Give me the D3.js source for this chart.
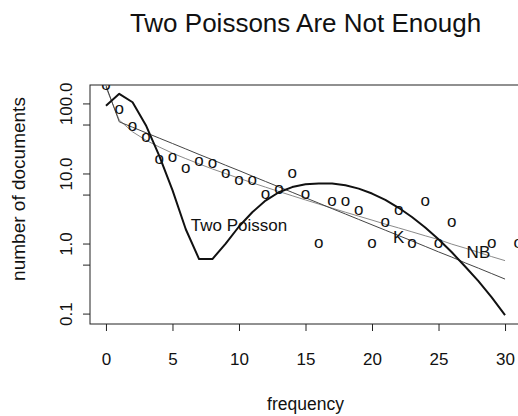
<!DOCTYPE html>
<html>
<head>
<meta charset="utf-8">
<script src="https://cdn.jsdelivr.net/npm/d3@7"></script>
<style>
	body { margin: 0; background: #fff; }
	text { font-family: "Liberation Sans", Arial, Helvetica, sans-serif; fill: #111; }
</style>
</head>
<body>
<div id="chart"></div>
<script>

var freq = [0, 1, 2, 3, 4, 5, 6, 7, 8, 9, 10, 11, 12, 13, 14, 15, 16, 17, 18, 19, 20, 21, 22, 23, 24, 25, 26, 27, 28, 29, 30];

// fitted models, one value per frequency
var twoPoisson = [92.5, 137, 104, 49, 18, 5.8, 1.6, 0.6, 0.6, 1.0, 1.75, 2.8, 4.1, 5.4, 6.4, 7.0, 7.2, 7.2, 6.8, 6.08, 5.17, 4.19, 3.24, 2.39, 1.69, 1.15, 0.75, 0.47, 0.29, 0.17, 0.095];
var kMixture = [180, 54.6, 45.7, 38.2, 32.0, 26.8, 22.4, 18.7, 15.7, 13.1, 11.0, 9.18, 7.68, 6.43, 5.38, 4.50, 3.77, 3.15, 2.64, 2.21, 1.85, 1.55, 1.30, 1.09, 0.91, 0.76, 0.64, 0.53, 0.445, 0.372, 0.311];
var negBinomial = [170, 57.8, 39.3, 29.9, 23.9, 19.5, 16.3, 13.7, 11.6, 9.95, 8.55, 7.37, 6.38, 5.53, 4.81, 4.19, 3.66, 3.20, 2.80, 2.46, 2.16, 1.89, 1.67, 1.47, 1.29, 1.14, 0.98, 0.86, 0.75, 0.65, 0.57];

// observed counts (zero counts are not drawn on a log axis)
var obsFreq = [0, 1, 2, 3, 4, 5, 6, 7, 8, 9, 10, 11, 12, 13, 14, 15, 16, 17, 18, 19, 20, 21, 22, 23, 24, 25, 26, 29, 31];
var obsDocs = [180, 82, 47, 33, 16, 17, 12, 15, 14, 10, 8, 8, 5, 6, 10, 5, 1, 4, 4, 3, 1, 2, 3, 1, 4, 1, 2, 1, 1];

var xTicks = [0, 5, 10, 15, 20, 25, 30];
var yTicks = [0.1, 0.5, 1, 5, 10, 50, 100];
var yTickLabels = ["0.1", "", "1.0", "", "10.0", "", "100.0"];

var curveNames = ["Two Poisson", "K", "NB"];
var curveLabelX = [10, 22, 28];
var curveLabelY = [1.83, 1.24, 0.75];

var w = 518;
var h = 416;
// plot region in pixels ("top" is taken by window.top)
var pLeft = 90, pRight = 521, pTop = 85, pBottom = 324;

var svg = d3.select("#chart")
			.append("svg")
			.attr("width", w)
			.attr("height", h);

// R style 4% padding around the data range
var x = d3.scaleLinear()
			.domain([0 - 0.04 * 30, 30 + 0.04 * 30])
			.range([pLeft, pRight]);

var lo = Math.log10(d3.min(twoPoisson));
var hi = Math.log10(d3.max(twoPoisson));
var pad = 0.04 * (hi - lo);
var y = d3.scaleLog()
			.domain([Math.pow(10, lo - pad), Math.pow(10, hi + pad)])
			.range([pBottom, pTop]);

svg.append("clipPath")
	.attr("id", "plotclip")
	.append("rect")
	.attr("x", pLeft)
	.attr("y", pTop)
	.attr("width", pRight - pLeft)
	.attr("height", pBottom - pTop);

var plot = svg.append("g").attr("clip-path", "url(#plotclip)");

var line = d3.line()
			.x(function(d, i){ return x(freq[i]); })
			.y(function(d){ return y(d); });

plot.append("path")
	.datum(negBinomial)
	.attr("d", line)
	.attr("fill", "none")
	.attr("stroke", "#8a8a8a")
	.attr("stroke-width", 1);

plot.append("path")
	.datum(kMixture)
	.attr("d", line)
	.attr("fill", "none")
	.attr("stroke", "#444")
	.attr("stroke-width", 1);

plot.append("path")
	.datum(twoPoisson)
	.attr("d", line)
	.attr("fill", "none")
	.attr("stroke", "#111")
	.attr("stroke-width", 2)
	.attr("stroke-linejoin", "round");

plot.selectAll("text.pt")
	.data(obsDocs)
	.enter()
	.append("text")
	.attr("class", "pt")
	.attr("x", function(d, i){ return x(obsFreq[i]); })
	.attr("y", function(d){ return y(d); })
	.attr("dy", "0.27em")
	.attr("text-anchor", "middle")
	.style("font-size", "17px")
	.text("o");

plot.selectAll("text.lab")
	.data(curveNames)
	.enter()
	.append("text")
	.attr("class", "lab")
	.attr("x", function(d, i){ return x(curveLabelX[i]); })
	.attr("y", function(d, i){ return y(curveLabelY[i]); })
	.attr("dy", "0.36em")
	.attr("text-anchor", "middle")
	.style("font-size", "17px")
	.text(function(d){ return d; });

// box
svg.append("rect")
	.attr("x", pLeft)
	.attr("y", pTop)
	.attr("width", pRight - pLeft)
	.attr("height", pBottom - pTop)
	.attr("fill", "none")
	.attr("stroke", "#222")
	.attr("stroke-width", 1);

/********************************************************************
* Axes
*********************************************************************/
var xAxis = svg.append("g")
				.attr("transform", "translate(0," + pBottom + ")")
				.call(d3.axisBottom(x)
					.tickValues(xTicks)
					.tickSize(7)
					.tickSizeOuter(0)
					.tickPadding(22));

xAxis.select(".domain").remove();
xAxis.selectAll("line").attr("stroke", "#222");
xAxis.selectAll("text")
	.style("font-size", "17px")
	.attr("fill", "#111");

var yAxis = svg.append("g")
				.attr("transform", "translate(" + pLeft + ",0)")
				.call(d3.axisLeft(y)
					.tickValues(yTicks)
					.tickFormat(function(d, i){ return yTickLabels[i]; })
					.tickSize(7)
					.tickSizeOuter(0));

yAxis.select(".domain").remove();
yAxis.selectAll("line").attr("stroke", "#222");
yAxis.selectAll("text")
	.attr("x", 0)
	.attr("dy", 0)
	.attr("transform", "translate(-18.5,0) rotate(-90)")
	.attr("text-anchor", "middle")
	.attr("fill", "#111")
	.style("font-size", "17px");

svg.append("text")
	.attr("x", (pLeft + pRight) / 2)
	.attr("y", 410)
	.attr("text-anchor", "middle")
	.style("font-size", "17.5px")
	.text("frequency");

svg.append("text")
	.attr("transform", "translate(25,189) rotate(-90)")
	.attr("text-anchor", "middle")
	.style("font-size", "19px")
	.text("number of documents");

svg.append("text")
	.attr("x", (pLeft + pRight) / 2)
	.attr("y", 32)
	.attr("text-anchor", "middle")
	.style("font-size", "26px")
	.text("Two Poissons Are Not Enough");

</script>
</body>
</html>
